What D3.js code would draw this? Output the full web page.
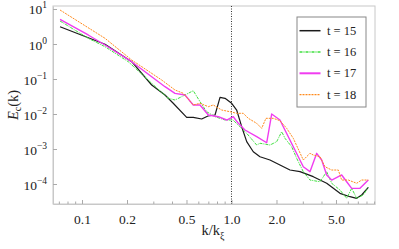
<!DOCTYPE html>
<html><head><meta charset="utf-8">
<script src="https://cdn.jsdelivr.net/npm/d3@7"></script>
<style>
html,body{margin:0;padding:0;background:#fff;}
</style></head>
<body><svg id="c" width="399" height="249"></svg>
<script>
// ---- data ----
const seriesNames = ["t = 15", "t = 16", "t = 17", "t = 18"];
const k15 = [0.0713,0.1425,0.215,0.2925,0.359,0.406,0.5015,0.555,0.632,0.696,0.776,0.838,0.905,1.003,1.083,1.17,1.264,1.399,1.551,1.809,2.11,2.462,2.872,3.525,4.334,5.318,6.203,6.879,7.429,8.226];
const e15 = [3.12,0.98,0.312,0.0674,0.0349,0.0206,0.00805,0.00805,0.0072,0.00877,0.00936,0.030,0.0281,0.0202,0.013,0.00434,0.00162,0.000837,0.000603,0.000485,0.000349,0.000251,0.000225,0.000162,0.000105,0.0000542,0.0000434,0.000039,0.0000485,0.0000805];
const k16 = [0.0713,0.1102,0.1425,0.204,0.2925,0.376,0.4188,0.4887,0.555,0.616,0.682,0.776,0.905,1.023,1.14,1.264,1.474,1.551,1.809,2.006,2.167,2.28,2.527,2.73,3.022,3.35,3.908,4.334,4.68,5.318,5.896,6.368,6.879,7.614,8.226];
const e16 = [4.54,1.455,0.837,0.312,0.0753,0.0286,0.0251,0.0349,0.0463,0.0225,0.01163,0.00837,0.00674,0.00674,0.00434,0.00281,0.0013,0.00146,0.0013,0.00162,0.00312,0.00202,0.00116,0.000542,0.000225,0.00013,0.000116,0.000225,0.000105,0.0000674,0.000039,0.0000753,0.000039,0.0000485,0.0000805];
const k17 = [0.0713,0.11,0.1425,0.215,0.2925,0.359,0.4188,0.4887,0.555,0.616,0.70,0.816,0.929,1.028,1.111,1.231,1.474,1.72,1.857,2.11,2.221,2.591,3.022,3.35,3.715,4.012,4.334,4.68,5.459,5.896,6.368,7.238,8.226];
const e17 = [5.08,1.81,0.936,0.312,0.1163,0.0603,0.039,0.0349,0.0181,0.0181,0.00936,0.00837,0.00674,0.00837,0.00542,0.00349,0.00225,0.00151,0.01,0.00674,0.00434,0.00116,0.000312,0.000225,0.000753,0.000485,0.000181,0.00013,0.000181,0.000116,0.0000753,0.0000753,0.00013];
const k18 = [0.0713,0.1425,0.215,0.3412,0.4188,0.476,0.555,0.616,0.70,0.7555,0.86,0.977,1.083,1.199,1.295,1.474,1.592,1.70,1.904,2.11,2.34,2.591,3.022,3.35,3.525,3.908,4.221,4.68,5.181,5.459,6.043,6.879,7.429,8.226];
const e18 = [9.36,1.455,0.349,0.0936,0.0485,0.039,0.0181,0.0202,0.0162,0.0181,0.013,0.01163,0.01047,0.01047,0.00753,0.00542,0.0039,0.00753,0.00753,0.00644,0.0039,0.00202,0.000485,0.000753,0.000674,0.000603,0.000312,0.000251,0.000251,0.00013,0.00013,0.000105,0.00013,0.00013];
const xTicks = [0.1,0.2,0.5,1.0,2.0,5.0];
const xTickLabels = ["0.1","0.2","0.5","1.0","2.0","5.0"];
const xMinor = [0.07,0.08,0.09,0.3,0.4,0.6,0.7,0.8,0.9,3,4,6,7,8,9];
const yTicks = [1e1,1e0,1e-1,1e-2,1e-3,1e-4];
const yExps = ["1","0","\u22121","\u22122","\u22123","\u22124"];
const kMark = 1.0;

// ---- layout ----
const FONT = '"Liberation Serif"';
const L = 53, R = 375, T = 6, B = 204;
const x = d3.scaleLog().domain([Math.pow(10,-1.194), Math.pow(10,0.960)]).range([L, R]);
const y = d3.scaleLog().domain([Math.pow(10,-4.571), Math.pow(10,1.0857)]).range([B, T]);

const svg = d3.select("#c");
const frameCol = "#c8c8c8";

// frame
svg.append("rect").attr("x",L).attr("y",T).attr("width",R-L).attr("height",B-T)
  .attr("fill","none").attr("stroke",frameCol).attr("stroke-width",1);

// bottom axis
const gx = svg.append("g").attr("transform",`translate(0,${B})`)
  .call(d3.axisBottom(x).tickValues(xTicks).tickSizeInner(-4).tickSizeOuter(0)
    .tickPadding(10).tickFormat((d,i)=>xTickLabels[i]));
gx.select(".domain").attr("stroke",frameCol);
gx.selectAll(".tick line").attr("stroke","#aaa");
gx.selectAll("text").attr("fill","#222").style("font-family",FONT).style("font-size","13.5px");
const gxm = svg.append("g").attr("transform",`translate(0,${B})`)
  .call(d3.axisBottom(x).tickValues(xMinor.filter(v=>v>x.domain()[0]&&v<x.domain()[1])).tickSizeInner(-2.5).tickSizeOuter(0).tickFormat(""));
gxm.select(".domain").remove();
gxm.selectAll(".tick line").attr("stroke","#aaa");

// left axis
const gy = svg.append("g").attr("transform",`translate(${L},0)`)
  .call(d3.axisLeft(y).tickValues(yTicks).tickSizeInner(-4).tickSizeOuter(0).tickPadding(6).tickFormat(""));
gy.select(".domain").attr("stroke",frameCol);
gy.selectAll(".tick line").attr("stroke","#aaa");
gy.selectAll(".tick").each(function(d,i){
  const t = d3.select(this).append("text").attr("x",-6).attr("y",5)
    .attr("text-anchor","end").attr("fill","#222")
    .style("font-family",FONT).style("font-size","13.5px");
  t.append("tspan").text("10");
  t.append("tspan").attr("dy",-6).style("font-size","9.5px").text(yExps[i]);
});

// dotted vertical line at k = 1
svg.append("line").attr("x1",x(kMark)).attr("x2",x(kMark)).attr("y1",T).attr("y2",B)
  .attr("stroke","#333").attr("stroke-width",1).attr("stroke-dasharray","1,1.5");

// series
const series = [
  {k:k15, e:e15, color:"#1a1a1a", width:1.2, dash:null},
  {k:k16, e:e16, color:"#3fe03f", width:1.0, dash:"3,1,1,1"},
  {k:k17, e:e17, color:"#f03cf0", width:1.4, dash:null},
  {k:k18, e:e18, color:"#ff8a1c", width:1.0, dash:"2,1"}
];
const line = d3.line().x(d=>x(d[0])).y(d=>y(d[1]));
series.forEach(s=>{
  svg.append("path").datum(s.k.map((v,i)=>[v,s.e[i]]))
    .attr("d",line).attr("fill","none").attr("stroke",s.color)
    .attr("stroke-width",s.width).attr("stroke-linejoin","round")
    .attr("stroke-dasharray",s.dash);
});

// legend
const lg = svg.append("g");
lg.append("rect").attr("x",297).attr("y",17).attr("width",69).attr("height",90)
  .attr("fill","#fff").attr("stroke","#888").attr("stroke-width",1);
series.forEach((s,i)=>{
  const yy = 30.7 + i*21.3;
  lg.append("line").attr("x1",299.5).attr("x2",320.5).attr("y1",yy).attr("y2",yy)
    .attr("stroke",s.color).attr("stroke-width",i===2?2:s.width+0.3).attr("stroke-dasharray",s.dash);
  lg.append("text").attr("x",327).attr("y",yy+4).attr("fill","#222")
    .style("font-family",FONT).style("font-size","12.5px")
    .text(seriesNames[i]);
});

// axis titles
const yl = svg.append("text").attr("transform","translate(18,105) rotate(-90)")
  .attr("text-anchor","middle").attr("fill","#222")
  .style("font-family",FONT).style("font-size","14.5px");
yl.append("tspan").style("font-style","italic").text("E");
yl.append("tspan").style("font-size","10px").attr("dy",3).text("c");
yl.append("tspan").attr("dy",-3).text("(k)");

const xl = svg.append("text").attr("x",213).attr("y",235)
  .attr("text-anchor","middle").attr("fill","#222")
  .style("font-family",FONT).style("font-size","14.5px");
xl.append("tspan").text("k/k");
xl.append("tspan").style("font-size","10px").attr("dy",4).text("\u03be");
</script></body></html>
